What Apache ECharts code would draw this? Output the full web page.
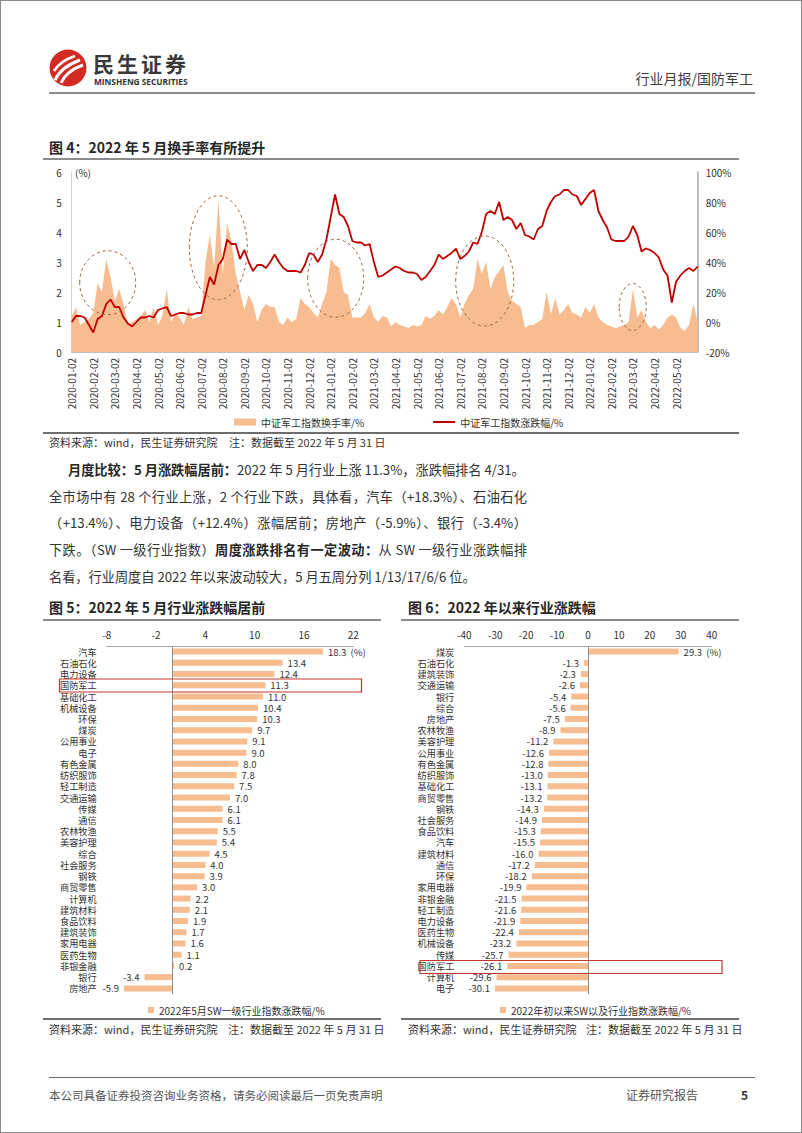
<!DOCTYPE html>
<html>
<head>
<meta charset="utf-8">
<script src="https://cdn.jsdelivr.net/npm/echarts@6/dist/echarts.min.js"></script>
<style>
  html, body { margin:0; padding:0; background:#fff; }
  #page { position:relative; width:802px; height:1133px; box-sizing:border-box; border:1px solid #8a8a8a; overflow:hidden;
          font-family:"Noto Sans CJK SC", "Noto Sans", sans-serif; color:#333; }
  #chart { position:absolute; left:0; top:0; width:802px; height:1133px; }
  .t { position:absolute; white-space:nowrap; line-height:20px; }
  .hl { position:absolute; background:#8c8c8c; }
  .ttl { font-weight:bold; font-size:14px; color:#262626; }
  .src { font-size:11px; color:#333; }
  .para { font-size:13.2px; color:#333; width:478px; }
  .just { text-align:justify; text-align-last:justify; }
  b { font-weight:bold; color:#262626; }
</style>
</head>
<body>
<div id="page">
  <div id="chart"></div>
  <!-- header -->
  <svg style="position:absolute;left:46px;top:46px" width="44" height="44" viewBox="0 0 44 44">
    <circle cx="21" cy="21" r="18.5" fill="#D42A24"/>
    <path d="M8,33 Q14,20 33,13" stroke="#fff" stroke-width="3" fill="none"/>
    <path d="M14,36 Q19,24 36,18" stroke="#fff" stroke-width="3" fill="none"/>
    <path d="M7,24 Q13,14 28,9" stroke="#fff" stroke-width="2.5" fill="none"/>
  </svg>
  <div class="t" style="left:92px;top:52px;font-size:21px;font-weight:bold;color:#3a3a3a;letter-spacing:3px;line-height:21px">民生证券</div>
  <div class="t" style="left:93px;top:77px;font-size:8.3px;font-weight:bold;color:#333;line-height:8px;font-family:'Open Sans','Noto Sans',sans-serif">MINSHENG SECURITIES</div>
  <div class="t" style="right:48px;top:67px;font-size:14px;color:#404040">行业月报/国防军工</div>
  <div class="hl" style="left:48px;top:91px;width:706px;height:2px;background:#8c8c8c"></div>

  <!-- fig 4 -->
  <div class="t ttl" style="left:48px;top:136px">图 4：2022 年 5 月换手率有所提升</div>
  <div class="hl" style="left:42px;top:157px;width:696px;height:1.5px;background:#8c8c8c"></div>
  <div class="hl" style="left:42px;top:431px;width:696px;height:1.5px;background:#6d6d6d"></div>
  <div class="t src" style="left:48px;top:431px">资料来源：wind，民生证券研究院</div>
  <div class="t src" style="left:228px;top:431px">注：数据截至 2022 年 5 月 31 日</div>

  <!-- paragraph -->
  <div class="t para" style="left:67px;top:459px;width:auto"><b>月度比较：5 月涨跌幅居前：</b>2022 年 5 月行业上涨 11.3%，涨跌幅排名 4/31。</div>
  <div class="t para just" style="left:48px;top:486px">全市场中有 28 个行业上涨，2 个行业下跌，具体看，汽车（+18.3%）、石油石化</div>
  <div class="t para just" style="left:48px;top:512px">（+13.4%）、电力设备（+12.4%）涨幅居前；房地产（-5.9%）、银行（-3.4%）</div>
  <div class="t para just" style="left:48px;top:539px">下跌。（SW 一级行业指数）<b>周度涨跌排名有一定波动：</b>从 SW 一级行业涨跌幅排</div>
  <div class="t para" style="left:48px;top:566px;width:auto">名看，行业周度自 2022 年以来波动较大，5 月五周分列 1/13/17/6/6 位。</div>

  <!-- fig 5 / fig 6 -->
  <div class="t ttl" style="left:48px;top:596px">图 5：2022 年 5 月行业涨跌幅居前</div>
  <div class="t ttl" style="left:407px;top:596px">图 6：2022 年以来行业涨跌幅</div>
  <div class="hl" style="left:42px;top:618px;width:338px;height:1.5px;background:#8c8c8c"></div>
  <div class="hl" style="left:400px;top:618px;width:338px;height:1.5px;background:#8c8c8c"></div>
  <div class="hl" style="left:42px;top:1017px;width:338px;height:1.5px;background:#6d6d6d"></div>
  <div class="hl" style="left:400px;top:1017px;width:338px;height:1.5px;background:#6d6d6d"></div>
  <div class="t src" style="left:48px;top:1018px">资料来源：wind，民生证券研究院</div>
  <div class="t src" style="left:227px;top:1018px">注：数据截至 2022 年 5 月 31 日</div>
  <div class="t src" style="left:407px;top:1018px">资料来源：wind，民生证券研究院</div>
  <div class="t src" style="left:585px;top:1018px">注：数据截至 2022 年 5 月 31 日</div>

  <!-- footer -->
  <div class="hl" style="left:48px;top:1076px;width:706px;height:1px;background:#6d6d6d"></div>
  <div class="t" style="left:48px;top:1084px;font-size:11.5px;color:#555">本公司具备证券投资咨询业务资格，请务必阅读最后一页免责声明</div>
  <div class="t" style="left:625px;top:1084px;font-size:12px;color:#555">证券研究报告</div>
  <div class="t" style="left:740px;top:1084px;font-size:12px;font-weight:bold;color:#333">5</div>
</div>
<script>
// ---------- Figure 4 data (5 samples per month, 2020-01 .. 2022-05) ----------
const months = ['2020-01-02','2020-02-02','2020-03-02','2020-04-02','2020-05-02','2020-06-02','2020-07-02','2020-08-02','2020-09-02','2020-10-02','2020-11-02','2020-12-02',
  '2021-01-02','2021-02-02','2021-03-02','2021-04-02','2021-05-02','2021-06-02','2021-07-02','2021-08-02','2021-09-02','2021-10-02','2021-11-02','2021-12-02',
  '2022-01-02','2022-02-02','2022-03-02','2022-04-02','2022-05-02'];
const turnover = [1.2,1.5,0.9,1.0,1.1,1.3,2.3,2.0,3.1,2.5,1.7,2.1,1.6,0.9,1.0,1.1,1.2,1.4,1.0,1.5,0.9,1.2,2.1,1.0,1.3,
  1.15,0.9,1.5,1.1,1.15,1.2,3.0,3.9,2.8,5.1,2.6,4.3,3.7,2.6,2.0,1.4,1.9,1.6,1.0,1.4,1.6,1.5,1.5,1.0,0.9,1.15,
  1.0,1.1,1.8,1.6,1.5,1.3,1.15,1.6,2.0,3.1,2.9,2.8,2.0,1.9,1.15,1.15,1.15,1.3,1.6,1.15,1.0,1.2,
  1.15,0.85,1.0,0.9,0.85,0.8,0.9,0.85,0.9,1.2,1.1,1.2,1.4,1.25,1.5,1.8,1.6,1.15,1.6,1.9,2.1,3.1,2.6,3.0,2.1,2.5,
  2.7,2.9,2.0,1.7,1.6,1.5,0.8,0.9,0.9,1.0,1.1,2.0,1.25,1.8,1.25,1.4,1.6,1.3,1.25,1.15,1.5,1.3,
  1.6,1.15,1.0,0.9,0.85,0.8,0.85,0.9,1.0,2.1,1.15,1.4,1.0,0.8,0.9,0.75,0.9,1.15,1.25,1.15,0.8,0.7,0.9,1.6,1.0];
const indexChg = [0,4,4,3,-2,-7,2,4,12,15,10,10,3,-1,-3,0,3,3,4,3,8,9,10,4,5,
  6,6,5,5,6,6,18,30,25,38,42,55,52,52,42,48,40,34,38,38,36,40,45,40,36,34,34,34,33,38,46,45,40,45,55,70,85,72,70,64,54,53,53,51,52,40,30,31,
  33,35,37,36,34,33,33,32,28,30,34,38,45,42,44,46,49,42,44,47,53,52,60,72,74,72,80,68,70,68,62,66,58,57,55,62,64,74,80,84,85,88,88,85,84,78,82,86,
  88,74,68,63,55,54,54,54,57,64,58,47,49,48,46,43,35,31,13,27,31,34,36,34,37];

// ---------- Figure 5 data ----------
const cats5 = ['汽车','石油石化','电力设备','国防军工','基础化工','机械设备','环保','煤炭','公用事业','电子','有色金属','纺织服饰','轻工制造','交通运输','传媒','通信','农林牧渔','美容护理','综合','社会服务','钢铁','商贸零售','计算机','建筑材料','食品饮料','建筑装饰','家用电器','医药生物','非银金融','银行','房地产'];
const vals5 = [18.3,13.4,12.4,11.3,11.0,10.4,10.3,9.7,9.1,9.0,8.0,7.8,7.5,7.0,6.1,6.1,5.5,5.4,4.5,4.0,3.9,3.0,2.2,2.1,1.9,1.7,1.6,1.1,0.2,-3.4,-5.9];

// ---------- Figure 6 data ----------
const cats6 = ['煤炭','石油石化','建筑装饰','交通运输','银行','综合','房地产','农林牧渔','美容护理','公用事业','有色金属','纺织服饰','基础化工','商贸零售','钢铁','社会服务','食品饮料','汽车','建筑材料','通信','环保','家用电器','非银金融','轻工制造','电力设备','医药生物','机械设备','传媒','国防军工','计算机','电子'];
const vals6 = [29.3,-1.3,-2.3,-2.6,-5.4,-5.6,-7.5,-8.9,-11.2,-12.6,-12.8,-13.0,-13.1,-13.2,-14.3,-14.9,-15.3,-15.5,-16.0,-17.2,-18.2,-19.9,-21.5,-21.6,-21.9,-22.4,-23.2,-25.7,-26.1,-29.6,-30.1];

const FONT = '"Noto Sans CJK SC", "Noto Sans", sans-serif';
const ORANGE = '#F7BD90';
const xCats = turnover.map((_, j) => String(j));

function barData(vals) {
  return vals.map(v => ({ value: v, label: { position: v < 0 ? 'left' : 'right' } }));
}
function barSeries(name, vals, xi, yi) {
  return {
    name, type: 'bar', xAxisIndex: xi, yAxisIndex: yi, barWidth: 6,
    itemStyle: { color: ORANGE },
    data: barData(vals),
    label: { show: true, fontSize: 9.5, lineHeight: 10, color: '#333', distance: 5, fontFamily: FONT,
      formatter: p => p.dataIndex === 0 ? p.value.toFixed(1) + '  (%)' : p.value.toFixed(1) },
    labelLayout: { hideOverlap: false },
    markLine: { silent: true, symbol: 'none', label: { show: false },
      lineStyle: { color: '#8c8c8c', width: 1, type: 'solid' }, data: [{ xAxis: 0 }] }
  };
}
function valueX(gi, min, max, interval) {
  return { type: 'value', gridIndex: gi, position: 'top', min, max, interval,
    axisLine: { show: true, lineStyle: { color: '#A6A6A6', width: 1.2 } }, axisTick: { show: false },
    splitLine: { show: false }, axisLabel: { fontSize: 10, color: '#333', margin: 7, fontFamily: FONT } };
}
function catY(gi, data) {
  return { type: 'category', gridIndex: gi, inverse: true, data,
    axisLine: { show: false }, axisTick: { show: false },
    axisLabel: { interval: 0, fontSize: 9.2, lineHeight: 10, color: '#333', margin: 10, fontFamily: FONT } };
}

const chart = echarts.init(document.getElementById('chart'), null, { renderer: 'svg' });
const ell = (cx, cy, rx, ry) => ({ type: 'ellipse', shape: { cx, cy, rx, ry }, silent: true, z: 100,
  style: { fill: 'none', stroke: '#9C6B4A', lineWidth: 1, lineDash: [3, 3] } });

chart.setOption({
  animation: false,
  textStyle: { fontFamily: FONT },
  grid: [
    { left: 70.7, top: 171, width: 626, height: 180 },
    { left: 105.7, top: 645, width: 246.6, height: 348 },
    { left: 463.3, top: 645, width: 247.4, height: 348 }
  ],
  legend: [
    { left: 228, top: 411, itemWidth: 22, itemHeight: 7, itemGap: 68,
      textStyle: { fontSize: 10, color: '#333', fontFamily: FONT },
      data: [{ name: '中证军工指数换手率/%', icon: 'rect' },
             { name: '中证军工指数涨跌幅/%', itemStyle: { opacity: 0 } }] },
    { left: 142, top: 999, itemWidth: 6, itemHeight: 6, icon: 'rect',
      textStyle: { fontSize: 10, color: '#333', fontFamily: FONT }, data: ['2022年5月SW一级行业指数涨跌幅/%'] },
    { left: 494, top: 999, itemWidth: 6, itemHeight: 6, icon: 'rect',
      textStyle: { fontSize: 10, color: '#333', fontFamily: FONT }, data: ['2022年初以来SW以及行业指数涨跌幅/%'] }
  ],
  xAxis: [
    { type: 'category', gridIndex: 0, data: xCats, boundaryGap: false,
      axisLine: { lineStyle: { color: '#BFBFBF' } }, axisTick: { show: false },
      axisLabel: { interval: 4, rotate: 90, fontSize: 10, color: '#333', margin: 6, fontFamily: FONT,
        formatter: v => months[Number(v) / 5] || '' } },
    valueX(1, -8, 22, 6),
    valueX(2, -40, 40, 10)
  ],
  yAxis: [
    { type: 'value', gridIndex: 0, min: 0, max: 6, interval: 1, splitLine: { show: false },
      axisLine: { show: true, lineStyle: { color: '#D0D0D0' } }, axisTick: { show: false },
      axisLabel: { fontSize: 10, color: '#333', margin: 10 } },
    { type: 'value', gridIndex: 0, min: -20, max: 100, interval: 20, position: 'right', splitLine: { show: false },
      axisLine: { show: true, lineStyle: { color: '#A6A6A6', width: 1.5 } }, axisTick: { show: false },
      axisLabel: { fontSize: 10, color: '#333', margin: 8, formatter: '{value}%' } },
    catY(1, cats5),
    catY(2, cats6)
  ],
  series: [
    { name: '中证军工指数换手率/%', type: 'line', xAxisIndex: 0, yAxisIndex: 0, data: turnover,
      symbol: 'none', lineStyle: { width: 0 }, itemStyle: { color: ORANGE },
      areaStyle: { color: ORANGE, opacity: 1 }, z: 1 },
    { name: '中证军工指数涨跌幅/%', type: 'line', xAxisIndex: 0, yAxisIndex: 1, data: indexChg,
      symbol: 'none', lineStyle: { width: 1.8, color: '#C00000' }, itemStyle: { color: '#C00000' }, z: 3 },
    barSeries('2022年5月SW一级行业指数涨跌幅/%', vals5, 1, 2),
    barSeries('2022年初以来SW以及行业指数涨跌幅/%', vals6, 2, 3)
  ],
  graphic: [
    { type: 'text', left: 74, top: 166, silent: true,
      style: { text: '(%)', fontSize: 10, fill: '#333', fontFamily: FONT } },
    ell(106.7, 281.7, 28, 32),
    ell(217.3, 246.7, 29, 52),
    ell(334.7, 277.3, 28, 39),
    ell(483.7, 280, 29, 45),
    ell(631.7, 306, 13.5, 23.5),
    { type: 'rect', silent: true, z: 100, shape: { x: 58.5, y: 678, width: 302, height: 13 },
      style: { fill: 'none', stroke: '#C0392B', lineWidth: 1.2 } },
    { type: 'rect', silent: true, z: 100, shape: { x: 419, y: 959.5, width: 302, height: 13 },
      style: { fill: 'none', stroke: '#C0392B', lineWidth: 1.2 } }
  ]
});
</script>
</body>
</html>
